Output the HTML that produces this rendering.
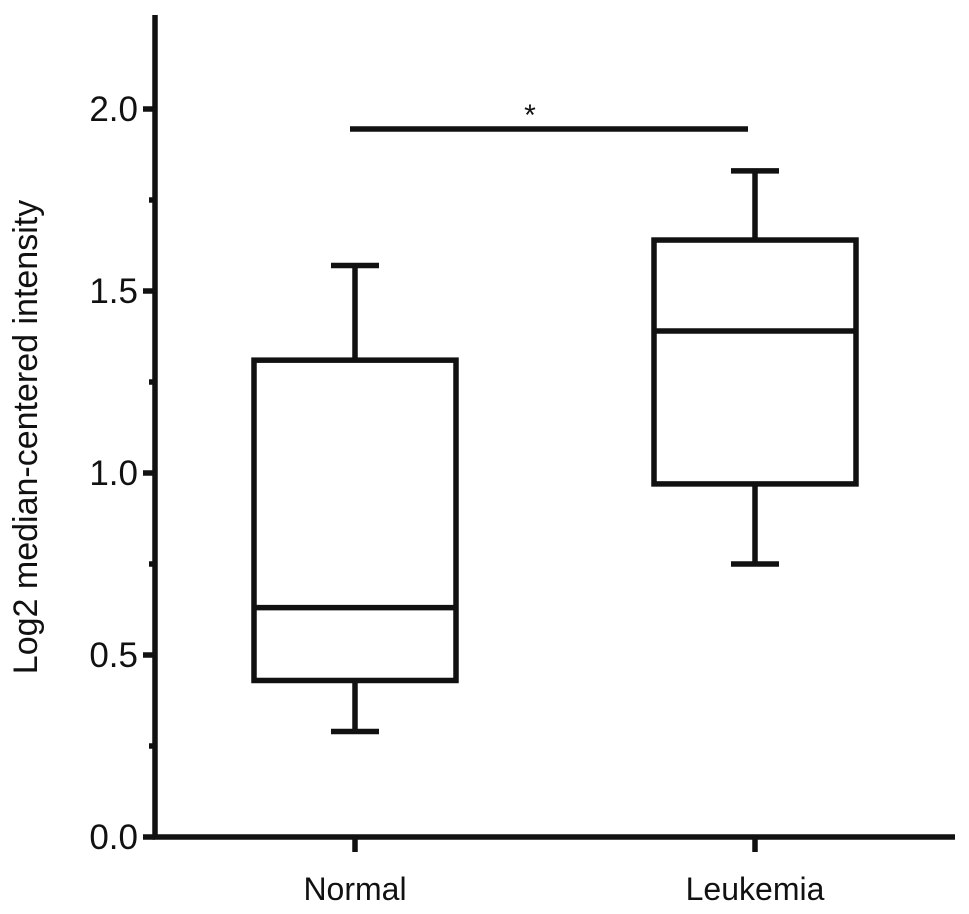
<!DOCTYPE html>
<html><head><meta charset="utf-8"><style>
html,body{margin:0;padding:0;background:#fff;}
svg{display:block;font-family:"Liberation Sans",Arial,sans-serif;}
</style></head><body>
<svg id="chart" width="969" height="914" viewBox="0 0 969 914" xmlns="http://www.w3.org/2000/svg">
<g id="axes"></g>
<g id="boxes"></g>
<text transform="translate(37,437) rotate(-90)" text-anchor="middle" font-size="34" fill="#111">Log2 median-centered intensity</text>
</svg>
<script>
const categories = ["Normal", "Leukemia"];
const whiskerLow = [0.29, 0.75];
const q1 = [0.43, 0.97];
const median = [0.63, 1.39];
const q3 = [1.31, 1.64];
const whiskerHigh = [1.57, 1.83];
const yTicks = [0, 0.5, 1.0, 1.5, 2.0];
const yTickLabels = ["0.0", "0.5", "1.0", "1.5", "2.0"];
const yMinorTicks = [0.25, 0.75, 1.25, 1.75];
const sigLabel = "*";

const NS = "http://www.w3.org/2000/svg";
const y = v => 837 - v * 364;
const x = i => 355 + i * 400;
const axes = document.getElementById('axes');
const boxes = document.getElementById('boxes');
function mk(parent, tag, attrs) {
  const e = document.createElementNS(NS, tag);
  for (const k in attrs) e.setAttribute(k, attrs[k]);
  parent.appendChild(e);
  return e;
}
const sw = 5.5;
let e = mk(axes, 'line', {x1:155, y1:15, x2:155, y2:839.5, stroke:'#111', 'stroke-width':sw});


e = mk(axes, 'line', {x1:152.5, y1:837, x2:955, y2:837, stroke:'#111', 'stroke-width':sw});


yTicks.forEach((v, i) => {
  const t = mk(axes, 'line', {x1:143, y1:y(v), x2:155, y2:y(v), stroke:'#111', 'stroke-width':sw});
  
  
  const l = mk(axes, 'text', {x:138, y:y(v)+12, 'text-anchor':'end', 'font-size':35, fill:'#111'});
  l.textContent = yTickLabels[i];
  
  
});
yMinorTicks.forEach(v => {
  const t = mk(axes, 'line', {x1:149, y1:y(v), x2:155, y2:y(v), stroke:'#111', 'stroke-width':sw});
  
  
});
categories.forEach((c, i) => {
  const t = mk(axes, 'line', {x1:x(i), y1:837, x2:x(i), y2:852, stroke:'#111', 'stroke-width':sw});
  
  
  const l = mk(axes, 'text', {x:x(i), y:900, 'text-anchor':'middle', 'font-size':32, fill:'#111'});
  l.textContent = c;
  
  

  const g = mk(boxes, 'g', {fill:'none', stroke:'#111', 'stroke-width':sw});
  
  
  const hw = 101, cw = 24;
  mk(g, 'line', {x1:x(i), y1:y(whiskerHigh[i]), x2:x(i), y2:y(q3[i])});
  mk(g, 'line', {x1:x(i), y1:y(q1[i]), x2:x(i), y2:y(whiskerLow[i])});
  mk(g, 'line', {x1:x(i)-cw, y1:y(whiskerHigh[i]), x2:x(i)+cw, y2:y(whiskerHigh[i])});
  mk(g, 'line', {x1:x(i)-cw, y1:y(whiskerLow[i]), x2:x(i)+cw, y2:y(whiskerLow[i])});
  mk(g, 'rect', {x:x(i)-hw, y:y(q3[i]), width:2*hw, height:y(q1[i])-y(q3[i])});
  mk(g, 'line', {x1:x(i)-hw, y1:y(median[i]), x2:x(i)+hw, y2:y(median[i])});
});
e = mk(boxes, 'line', {x1:350, y1:129, x2:748, y2:129, stroke:'#111', 'stroke-width':sw});


e = mk(boxes, 'text', {x:530, y:125, 'text-anchor':'middle', 'font-size':30, fill:'#111'});
e.textContent = sigLabel;


</script>
</body></html>
